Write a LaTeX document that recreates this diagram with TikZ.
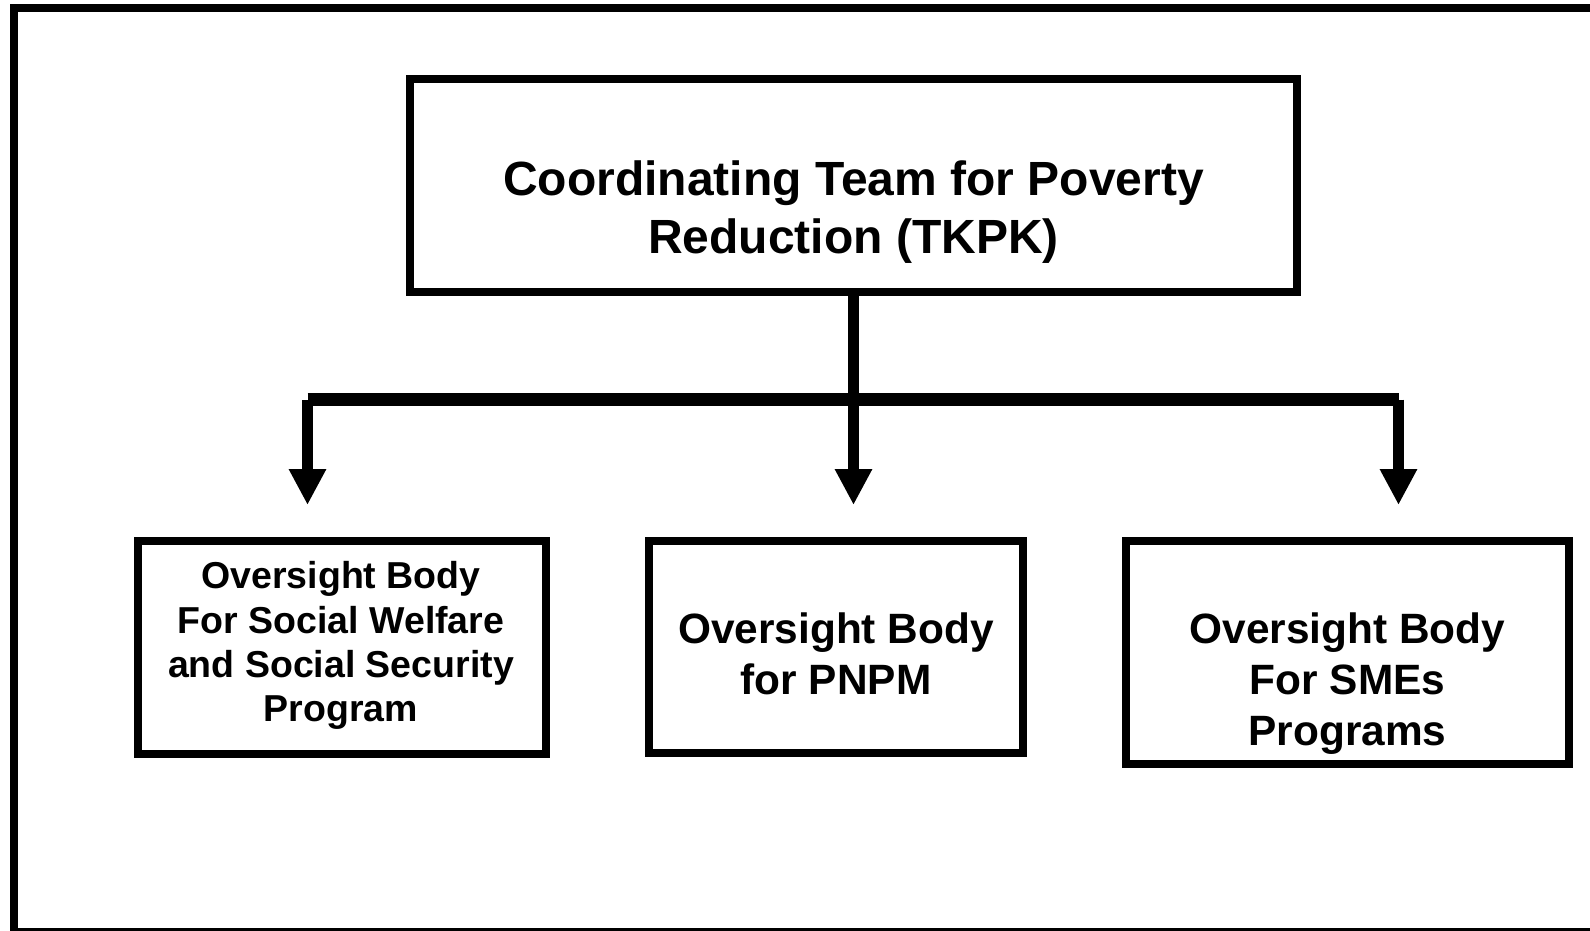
\documentclass[tikz,border=0pt]{standalone}
\usepackage{fontspec}
\setmainfont{Liberation Sans}
\usetikzlibrary{arrows.meta}
\begin{document}
\begin{tikzpicture}[x=1pt,y=-1pt,
  boxnode/.style={draw=black, line width=8pt, rectangle, inner sep=0pt},
  txt/.style={align=center, inner sep=0pt, font=\bfseries},
  bar/.style={line width=12.5pt, line cap=butt},
  stem/.style={line width=11pt, line cap=butt, -{Triangle[width=35pt,length=36pt]}}
]
\useasboundingbox (0,0) rectangle (1590,930);
\fill[white] (0,0) rectangle (1590,930);
\begin{scope}
\clip (0,0) rectangle (1590,930);
\draw[line width=8pt] (14,8) rectangle (1600,932);
\end{scope}

% boxes
\node[boxnode, minimum width=887pt, minimum height=213pt] (top) at (853.5,185.5) {};
\node[boxnode, minimum width=408pt, minimum height=213pt] (b1) at (342,647.5) {};
\node[boxnode, minimum width=374pt, minimum height=212pt] (b2) at (836,647) {};
\node[boxnode, minimum width=443pt, minimum height=223pt] (b3) at (1347.5,652.5) {};

% texts
\node[txt, font=\bfseries\fontsize{48}{58}\selectfont] (ttop) at (853.5,212) {Coordinating Team for Poverty\\Reduction (TKPK)};
\node[txt, font=\bfseries\fontsize{37.5}{44.3}\selectfont] (t1) at (341,645.7) {Oversight Body\\For Social Welfare\\and Social Security\\Program};
\node[txt, font=\bfseries\fontsize{42.4}{51}\selectfont] (t2) at (836,654) {Oversight Body\\for PNPM};
\node[txt, font=\bfseries\fontsize{42.4}{51}\selectfont] (t3) at (1347.5,684) {Oversight Body\\For SMEs\\Programs};

% connectors
\coordinate (jl) at (307.5,399.5);
\coordinate (jm) at (853.5,399.5);
\coordinate (jr) at (1398.5,399.5);
\coordinate (el) at (307.5,505);
\coordinate (em) at (853.5,505);
\coordinate (er) at (1398.5,505);
\draw[bar] (jl) -- (jr);
\draw[stem] (top.south) -- (em);
\draw[stem] (jl) -- (el);
\draw[stem] (jr) -- (er);
\end{tikzpicture}
\end{document}
